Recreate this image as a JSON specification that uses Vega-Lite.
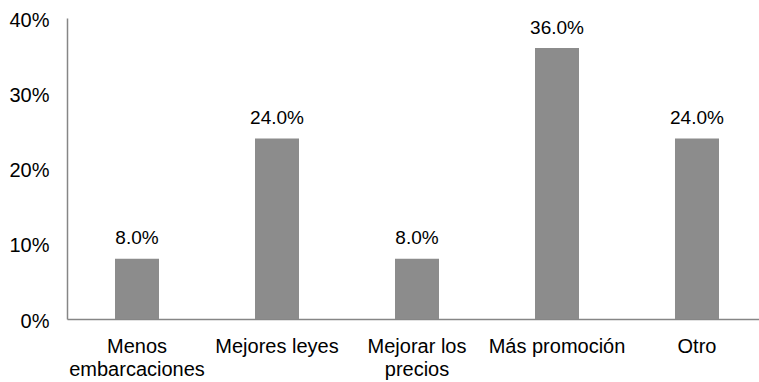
{
  "$schema": "https://vega.github.io/schema/vega-lite/v6.json",
  "autosize": {"type": "none"},
  "padding": {"left": 67, "top": 18, "right": 0, "bottom": 63},
  "width": 700,
  "height": 301,
  "background": "white",
  "config": {
    "view": {"stroke": null},
    "font": "Liberation Sans"
  },
  "data": {
    "values": [
      {"respuesta": "Menos embarcaciones", "porcentaje": 0.08},
      {"respuesta": "Mejores leyes", "porcentaje": 0.24},
      {"respuesta": "Mejorar los precios", "porcentaje": 0.08},
      {"respuesta": "Más promoción", "porcentaje": 0.36},
      {"respuesta": "Otro", "porcentaje": 0.24}
    ]
  },
  "encoding": {
    "x": {
      "field": "respuesta",
      "type": "nominal",
      "sort": null,
      "scale": {"paddingInner": 0.6857, "paddingOuter": 0.3429},
      "axis": {
        "title": null,
        "labelAngle": 0,
        "ticks": false,
        "domainColor": "#868686",
        "domainWidth": 1.5,
        "labelFont": "Liberation Sans",
        "labelFontSize": 20,
        "labelColor": "#000000",
        "labelPadding": 17,
        "labelLineHeight": 23.5,
        "labelBaseline": "top",
        "labelExpr": "datum.value == 'Menos embarcaciones' ? ['Menos', 'embarcaciones'] : datum.value == 'Mejorar los precios' ? ['Mejorar los', 'precios'] : datum.value"
      }
    },
    "y": {
      "field": "porcentaje",
      "type": "quantitative",
      "scale": {"domain": [0, 0.4], "nice": false},
      "axis": {
        "title": null,
        "format": ".0%",
        "values": [0, 0.1, 0.2, 0.3, 0.4],
        "grid": false,
        "ticks": false,
        "domainColor": "#868686",
        "domainWidth": 1.5,
        "labelFont": "Liberation Sans",
        "labelFontSize": 20,
        "labelColor": "#000000",
        "labelPadding": 18,
        "labelOffset": 2
      }
    }
  },
  "layer": [
    {"mark": {"type": "bar", "color": "#8c8c8c"}},
    {
      "mark": {
        "type": "text",
        "baseline": "alphabetic",
        "dy": -14.5,
        "font": "Liberation Sans",
        "fontSize": 19,
        "color": "#000000"
      },
      "encoding": {"text": {"field": "porcentaje", "type": "quantitative", "format": ".1%"}}
    }
  ]
}
